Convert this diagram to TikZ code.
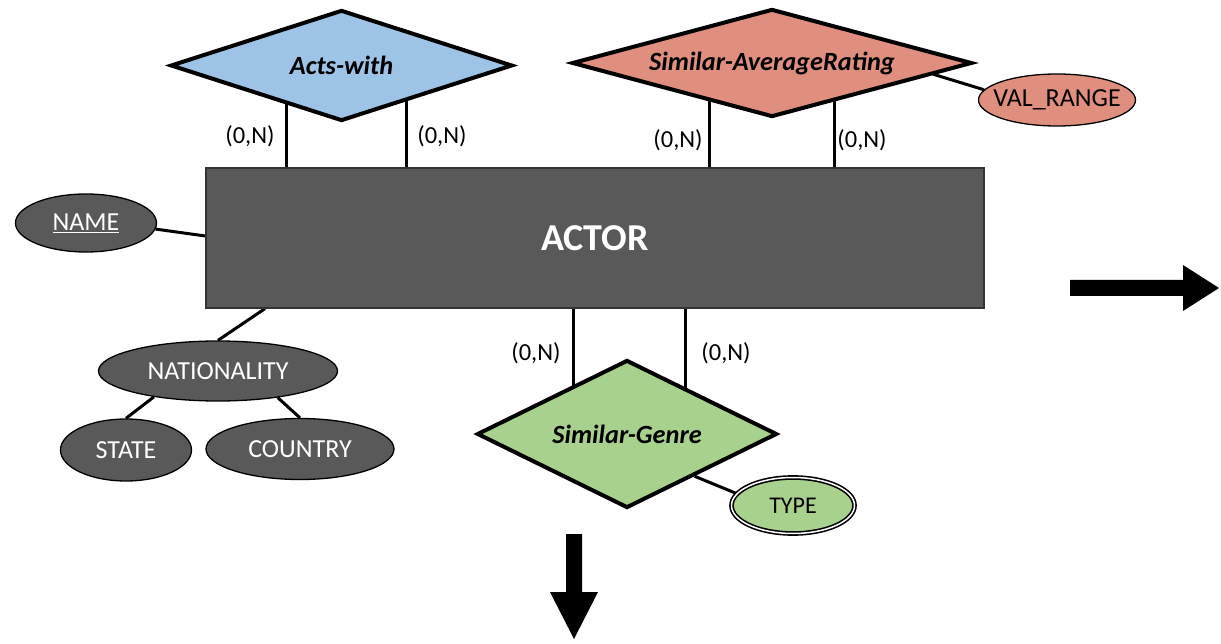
\documentclass[tikz,border=0pt]{standalone}
\usepackage{fontspec}
\setmainfont{Carlito}
\usetikzlibrary{shapes.geometric,backgrounds}
\definecolor{entgray}{HTML}{595959}
\definecolor{relblue}{HTML}{9DC3E6}
\definecolor{relsalmon}{HTML}{E08F7E}
\definecolor{relgreen}{HTML}{A9D18E}
\begin{document}
\begin{tikzpicture}[x=1pt,y=-1pt,
  entity/.style={rectangle, fill=entgray, draw=black!80, line width=1.2pt,
    minimum width=778pt, minimum height=140pt, inner sep=0pt, text=white,
    font=\fontsize{38}{42}\selectfont\bfseries},
  relation/.style={diamond, draw=black, line width=4pt, inner sep=0pt,
    font=\fontsize{26.3}{30}\selectfont\bfseries\itshape},
  attr/.style={ellipse, draw=black, line width=1.3pt, inner sep=0pt,
    font=\fontsize{26}{30}\selectfont},
  darkattr/.style={attr, fill=entgray, text=white},
  link/.style={draw=black, line width=3pt},
  card/.style={font=\fontsize{24.5}{28}\selectfont, inner sep=0pt},
  bigarrow/.style={fill=black}
]
\useasboundingbox (0,0) rectangle (1221,644);

% entity
\node[entity] (actor) at (595,238) {ACTOR};

% relationships
\node[relation, fill=relblue, minimum width=342pt, minimum height=111pt, aspect=3.08]
  (aw) at (341.5,65.5) {Acts-with};
\node[relation, fill=relsalmon, minimum width=400pt, minimum height=108pt, aspect=3.7]
  (sar) at (772,63) {Similar-AverageRating};
\node[relation, fill=relgreen, minimum width=300pt, minimum height=148pt, aspect=2.03]
  (sg) at (627,434) {Similar-Genre};

% attributes
\node[darkattr, minimum width=141pt, minimum height=58pt] (name) at (86,223) {\underline{NAME}};
\node[darkattr, minimum width=239pt, minimum height=60pt] (nat) at (218,371) {NATIONALITY};
\node[darkattr, minimum width=131pt, minimum height=62pt] (state) at (126,450) {STATE};
\node[darkattr, minimum width=188pt, minimum height=61pt] (country) at (300,449) {COUNTRY};
\node[attr, fill=relsalmon, inner xsep=-25pt, minimum width=157pt, minimum height=52pt]
  (vr) at (1057,100) {VAL\_RANGE};
\node[attr, fill=relgreen, double=white, double distance=1.5pt, line width=1.6pt,
  minimum width=123pt, minimum height=56pt, font=\fontsize{24}{28}\selectfont]
  (type) at (793,505.5) {TYPE};

% cardinalities
\node[card] (c1) at (250,136) {(0,N)};
\node[card] (c2) at (442,136) {(0,N)};
\node[card] (c3) at (678,140) {(0,N)};
\node[card] (c4) at (862,140) {(0,N)};
\node[card] (c5) at (536,353) {(0,N)};
\node[card] (c6) at (726,353) {(0,N)};

% attachment points on the entity
\coordinate (aw1) at ([xshift=-309pt]actor.north);
\coordinate (aw2) at ([xshift=-189pt]actor.north);
\coordinate (sr1) at ([xshift=114pt]actor.north);
\coordinate (sr2) at ([xshift=239pt]actor.north);
\coordinate (sg1) at ([xshift=-22pt]actor.south);
\coordinate (sg2) at ([xshift=90pt]actor.south);
\coordinate (natlink) at ([xshift=-330pt]actor.south);
\coordinate (namelink) at ([yshift=2pt]actor.west);

\begin{pgfonlayer}{background}
  \draw[link] (aw1) -- (aw1 |- aw.center);
  \draw[link] (aw2) -- (aw2 |- aw.center);
  \draw[link] (sr1) -- (sr1 |- sar.center);
  \draw[link] (sr2) -- (sr2 |- sar.center);
  \draw[link] (sg1) -- (sg1 |- sg.center);
  \draw[link] (sg2) -- (sg2 |- sg.center);
  \draw[link] (sar.-4) -- (vr.172);
  \draw[link] (sg.-32) -- (type.168);
  \draw[link] (name.-5) -- (namelink);
  \draw[link] (nat.north) -- (natlink);
  \draw[link] (nat.202) -- (state.north);
  \draw[link] (nat.-24) -- (country.north);
\end{pgfonlayer}

% block arrows
\fill[bigarrow] (1070,280) -- (1183,280) -- (1183,265) -- (1219,288) -- (1183,311)
  -- (1183,296) -- (1070,296) -- cycle;
\fill[bigarrow] (566,534) -- (582,534) -- (582,592) -- (598,592) -- (574,639)
  -- (550,592) -- (566,592) -- cycle;
\end{tikzpicture}
\end{document}
